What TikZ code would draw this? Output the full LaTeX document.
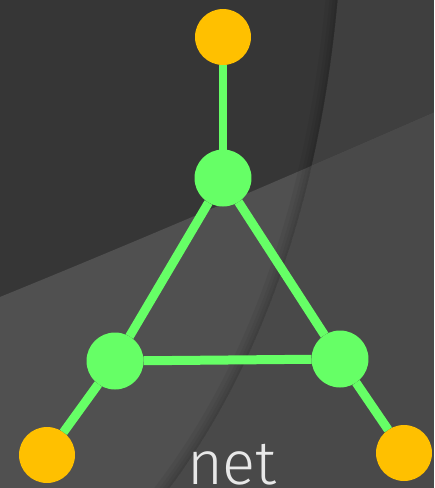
\documentclass[tikz,border=0pt]{standalone}
\usepackage{fontspec}
\usepackage{tikz}
\usetikzlibrary{calc,positioning}
\newfontfamily\netfont{Fira Sans Light}
\definecolor{netGreen}{RGB}{102,255,102}
\definecolor{netOrange}{RGB}{255,192,0}
\definecolor{bgTopLeft}{RGB}{54,54,54}
\definecolor{bgTopRight}{RGB}{63,63,63}
\definecolor{bgLowLeft}{RGB}{80,80,80}
\definecolor{bgLowRight}{RGB}{73,73,73}
\definecolor{netText}{RGB}{232,232,232}
\tikzset{
  hub/.style={circle, fill=netGreen, minimum size=1.14cm, inner sep=0pt, outer sep=0pt},
  leaf/.style={circle, fill=netOrange, minimum size=1.12cm, inner sep=0pt, outer sep=0pt},
  link/.style={netGreen, line width=0.18cm}
}

\begin{document}
\begin{tikzpicture}[x=0.02cm, y=-0.02cm]
\useasboundingbox (0,0) rectangle (434,488);
\clip (0,0) rectangle (434,488);

% background panels
\fill[bgTopLeft] (0,0) rectangle (434,488);
\fill[bgTopRight] (338,-5) -- (440,-5) -- (440,495) -- (164,495)
  .. controls (260,370) and (320,200) .. (338,-5) -- cycle;
\fill[bgLowLeft] (-5,299) .. controls (145,238) and (289,176) .. (440,110)
  -- (440,495) -- (-5,495) -- cycle;
\begin{scope}
\clip (338,-5) -- (440,-5) -- (440,495) -- (164,495)
  .. controls (260,370) and (320,200) .. (338,-5) -- cycle;
\fill[bgLowRight] (-5,299) .. controls (145,238) and (289,176) .. (440,110)
  -- (440,495) -- (-5,495) -- cycle;
\end{scope}
% soft shadow left of the bend
\begin{scope}
\clip (-5,-5) -- (338,-5) .. controls (320,200) and (260,370) .. (164,495)
  -- (-5,495) -- cycle;
\foreach \w in {4,10,16,24}
  \draw[black, opacity=0.05, line width=\w*0.02cm]
    (338,-5) .. controls (320,200) and (260,370) .. (164,495);
\end{scope}

% network
\node[leaf] (topleaf) at (223,37) {};
\node[hub] (tophub) at (223,178) {};
\node[hub] (lefthub) at (115,361) {};
\node[hub] (righthub) at (340,359) {};
\node[leaf] (leftleaf) at (47,455) {};
\node[leaf] (rightleaf) at (404,453) {};

\draw[link] (topleaf) -- (tophub);
\draw[link] (tophub) -- (lefthub);
\draw[link] (tophub) -- (righthub);
\draw[link] (lefthub) -- (righthub);
\draw[link] (lefthub) -- (leftleaf);
\draw[link] (righthub) -- (rightleaf);

\node[text=netText, anchor=base, inner sep=0pt] (label) at (232,484) {\netfont\fontsize{35}{35}\selectfont net};
\end{tikzpicture}
\end{document}
